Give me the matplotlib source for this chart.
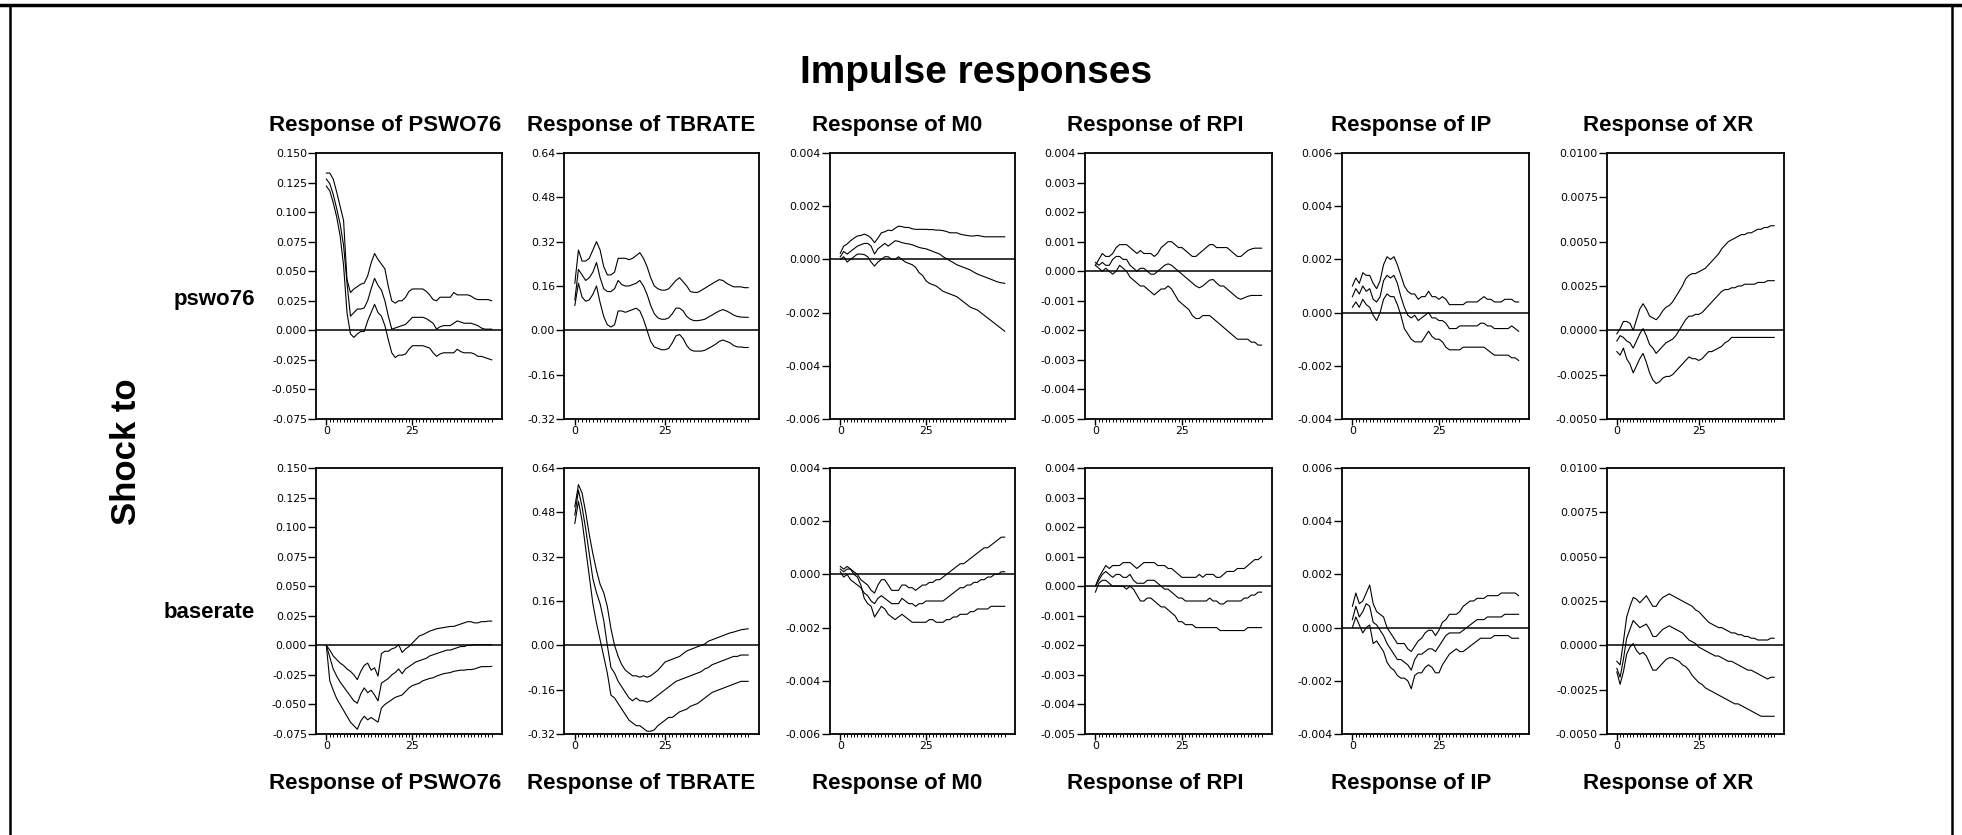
import matplotlib
matplotlib.use("Agg")
import matplotlib.pyplot as plt
from matplotlib.lines import Line2D
from matplotlib.ticker import FixedLocator
import numpy as np

plt.rcParams['font.family'] = ['Liberation Sans', 'DejaVu Sans']
plt.rcParams['axes.unicode_minus'] = False

# horizon 0..48
periods = list(range(49))

responses = ["PSWO76", "TBRATE", "M0", "RPI", "IP", "XR"]
shocks = ["pswo76", "baserate"]

# y axis ticks for each response column
yticks_psw = [-0.075, -0.050, -0.025, 0.0, 0.025, 0.050, 0.075, 0.100, 0.125, 0.150]
ylabels_psw = ["-0.075", "-0.050", "-0.025", "0.000", "0.025", "0.050", "0.075", "0.100", "0.125", "0.150"]
yticks_tb = [-0.32, -0.16, 0.0, 0.16, 0.32, 0.48, 0.64]
ylabels_tb = ["-0.32", "-0.16", "0.00", "0.16", "0.32", "0.48", "0.64"]
yticks_m0 = [-0.006, -0.004, -0.002, 0.0, 0.002, 0.004]
ylabels_m0 = ["-0.006", "-0.004", "-0.002", "0.000", "0.002", "0.004"]
yticks_rpi = [-0.005, -0.004, -0.003, -0.002, -0.001, 0.0, 0.001, 0.002, 0.003, 0.004]
ylabels_rpi = ["-0.005", "-0.004", "-0.003", "-0.002", "-0.001", "0.000", "0.001", "0.002", "0.003", "0.004"]
yticks_ip = [-0.004, -0.002, 0.0, 0.002, 0.004, 0.006]
ylabels_ip = ["-0.004", "-0.002", "0.000", "0.002", "0.004", "0.006"]
yticks_xr = [-0.005, -0.0025, 0.0, 0.0025, 0.005, 0.0075, 0.01]
ylabels_xr = ["-0.0050", "-0.0025", "0.0000", "0.0025", "0.0050", "0.0075", "0.0100"]

# ---- shock to pswo76 ----
psw_psw_hi = [0.133, 0.133, 0.128, 0.117, 0.105, 0.093, 0.043, 0.032, 0.035, 0.037, 0.039, 0.040, 0.046, 0.057, 0.065, 0.060, 0.056, 0.052, 0.037, 0.025, 0.023, 0.025, 0.025, 0.028, 0.033, 0.035, 0.035, 0.035, 0.035, 0.033, 0.030, 0.026, 0.025, 0.028, 0.028, 0.028, 0.028, 0.032, 0.030, 0.030, 0.030, 0.030, 0.029, 0.027, 0.026, 0.026, 0.026, 0.026, 0.025]
psw_psw_mid = [0.128, 0.124, 0.115, 0.103, 0.090, 0.072, 0.040, 0.012, 0.015, 0.018, 0.018, 0.019, 0.025, 0.035, 0.044, 0.038, 0.034, 0.025, 0.012, 0.001, 0.002, 0.003, 0.004, 0.005, 0.008, 0.011, 0.011, 0.011, 0.011, 0.010, 0.008, 0.006, 0.001, 0.003, 0.004, 0.004, 0.004, 0.006, 0.008, 0.007, 0.006, 0.006, 0.006, 0.005, 0.004, 0.002, 0.001, 0.001, 0.001]
psw_psw_lo = [0.122, 0.118, 0.108, 0.096, 0.080, 0.055, 0.015, -0.003, -0.006, -0.003, -0.001, -0.001, 0.008, 0.015, 0.022, 0.015, 0.012, 0.004, -0.008, -0.019, -0.023, -0.021, -0.021, -0.020, -0.016, -0.013, -0.013, -0.013, -0.013, -0.014, -0.015, -0.019, -0.022, -0.020, -0.019, -0.019, -0.019, -0.019, -0.016, -0.018, -0.019, -0.019, -0.019, -0.020, -0.022, -0.022, -0.023, -0.024, -0.025]

psw_tb_hi = [0.17, 0.29, 0.25, 0.25, 0.26, 0.29, 0.32, 0.29, 0.23, 0.20, 0.20, 0.21, 0.26, 0.26, 0.26, 0.255, 0.26, 0.27, 0.28, 0.26, 0.23, 0.19, 0.16, 0.15, 0.145, 0.145, 0.15, 0.165, 0.18, 0.19, 0.175, 0.16, 0.14, 0.137, 0.137, 0.144, 0.152, 0.16, 0.168, 0.176, 0.183, 0.18, 0.17, 0.163, 0.157, 0.157, 0.157, 0.154, 0.154]
psw_tb_mid = [0.11, 0.22, 0.20, 0.18, 0.19, 0.21, 0.245, 0.19, 0.15, 0.14, 0.14, 0.15, 0.18, 0.165, 0.16, 0.16, 0.165, 0.17, 0.18, 0.16, 0.13, 0.09, 0.06, 0.045, 0.04, 0.04, 0.045, 0.06, 0.08, 0.08, 0.07, 0.05, 0.04, 0.035, 0.035, 0.037, 0.04, 0.048, 0.055, 0.063, 0.07, 0.075, 0.07, 0.063, 0.055, 0.05, 0.048, 0.047, 0.047]
psw_tb_lo = [0.09, 0.17, 0.12, 0.105, 0.11, 0.13, 0.16, 0.10, 0.05, 0.02, 0.012, 0.02, 0.07, 0.07, 0.065, 0.07, 0.075, 0.08, 0.07, 0.04, 0.0, -0.04, -0.06, -0.065, -0.07, -0.07, -0.065, -0.045, -0.02, -0.015, -0.03, -0.055, -0.07, -0.075, -0.075, -0.075, -0.072, -0.065, -0.058, -0.05, -0.04, -0.035, -0.04, -0.045, -0.055, -0.06, -0.06, -0.062, -0.062]

psw_m0_hi = [0.00023, 0.0005, 0.00058, 0.0007, 0.0008, 0.00088, 0.0009, 0.00095, 0.0009, 0.0008, 0.00063, 0.0008, 0.001, 0.00104, 0.0011, 0.00108, 0.00117, 0.00125, 0.00123, 0.0012, 0.0012, 0.00115, 0.00113, 0.00113, 0.00113, 0.00113, 0.00112, 0.00112, 0.0011, 0.0011, 0.00108, 0.00105, 0.001, 0.001, 0.001, 0.00095, 0.00092, 0.0009, 0.00088, 0.00088, 0.0009, 0.00088, 0.00085, 0.00085, 0.00085, 0.00085, 0.00085, 0.00085, 0.00085]
psw_m0_mid = [0.0001, 0.0003, 0.0002, 0.0003, 0.0004, 0.0005, 0.00055, 0.0006, 0.0006, 0.0005, 0.0002, 0.0004, 0.0005, 0.0006, 0.0005, 0.0006, 0.0007, 0.00068, 0.00063, 0.0006, 0.00058, 0.00055, 0.0005, 0.00045, 0.00042, 0.0004, 0.00035, 0.0003, 0.00025, 0.0002, 0.0001, 0.00003, -0.00005, -0.00012, -0.0002, -0.00025, -0.0003, -0.00035, -0.0004, -0.00048, -0.00055, -0.0006, -0.00065, -0.0007, -0.00075, -0.0008, -0.00085, -0.00088, -0.0009]
psw_m0_lo = [0.0, 0.0001, -0.0001, 0.0, 0.0001, 0.0002, 0.0002, 0.00018, 0.0001, -0.0001, -0.00025, -0.0001, 0.0, 0.0001, 0.0001, 0.0, 0.0, 0.0001, 0.0, -0.0001, -0.00015, -0.0002, -0.0003, -0.0005, -0.0006, -0.0008, -0.0009, -0.00095, -0.001, -0.0011, -0.0012, -0.00125, -0.0013, -0.00135, -0.0014, -0.0015, -0.0016, -0.0017, -0.0018, -0.00185, -0.0019, -0.002, -0.0021, -0.0022, -0.0023, -0.0024, -0.0025, -0.0026, -0.0027]

psw_rpi_hi = [0.0002, 0.0004, 0.0006, 0.0005, 0.0005, 0.0006, 0.0008, 0.0009, 0.0009, 0.0009, 0.0008, 0.0007, 0.0006, 0.0007, 0.0006, 0.0006, 0.0006, 0.0005, 0.0006, 0.0008, 0.0009, 0.001, 0.001, 0.0009, 0.0008, 0.0008, 0.0007, 0.0006, 0.0005, 0.0005, 0.0006, 0.0007, 0.0008, 0.0009, 0.0009, 0.0008, 0.0008, 0.0008, 0.0008, 0.0007, 0.0006, 0.0005, 0.0005, 0.0006, 0.0007, 0.00075, 0.00078, 0.00078, 0.00078]
psw_rpi_mid = [0.0003, 0.0002, 0.0003, 0.0002, 0.0002, 0.0004, 0.0005, 0.0005, 0.0004, 0.0004, 0.0002, 0.0001, 0.0, 0.0001, 0.0001, 0.0, -0.0001, -0.0001, 0.0, 0.0001, 0.0002, 0.00025, 0.0002, 0.0001, 0.0, -0.0001, -0.0002, -0.0003, -0.0004, -0.0005, -0.00056, -0.0005, -0.0004, -0.0003, -0.00028, -0.0004, -0.0005, -0.0005, -0.0006, -0.0007, -0.0008, -0.0009, -0.00095, -0.0009, -0.00085, -0.00082, -0.00082, -0.00082, -0.00082]
psw_rpi_lo = [0.0002, 0.0001, 0.0, 0.0001, 0.0, -0.0001, 0.0, 0.0002, 0.0001, 0.0, -0.0002, -0.0003, -0.0004, -0.0005, -0.0005, -0.0006, -0.0007, -0.0008, -0.0007, -0.0006, -0.0006, -0.0005, -0.0006, -0.0008, -0.001, -0.0011, -0.0012, -0.0013, -0.0015, -0.0016, -0.0016, -0.0015, -0.0015, -0.0015, -0.0016, -0.0017, -0.0018, -0.0019, -0.002, -0.0021, -0.0022, -0.0023, -0.0023, -0.0023, -0.0023, -0.0024, -0.0024, -0.0025, -0.0025]

psw_ip_hi = [0.0010, 0.0013, 0.0011, 0.0015, 0.0014, 0.0014, 0.0011, 0.0009, 0.0012, 0.0018, 0.0021, 0.002, 0.0021, 0.0018, 0.0014, 0.001, 0.0008, 0.0007, 0.0007, 0.0005, 0.0006, 0.0006, 0.0008, 0.0006, 0.0006, 0.0005, 0.0006, 0.0005, 0.0003, 0.0003, 0.0003, 0.0003, 0.0003, 0.0004, 0.0004, 0.0004, 0.0004, 0.0005, 0.0006, 0.0005, 0.0005, 0.0004, 0.0004, 0.0004, 0.0005, 0.0005, 0.0005, 0.0004, 0.0004]
psw_ip_mid = [0.0006, 0.0009, 0.0007, 0.001, 0.0008, 0.0009, 0.0005, 0.0004, 0.0006, 0.0012, 0.0014, 0.0013, 0.0014, 0.0011, 0.0006, 0.0002, -0.0001, -0.0002, -0.0001, -0.0003, -0.0002, -0.0001, 0.0, -0.0002, -0.0002, -0.0003, -0.0003, -0.0004, -0.0006, -0.0006, -0.0006, -0.0005, -0.0005, -0.0005, -0.0005, -0.0005, -0.0005, -0.0004, -0.0004, -0.0005, -0.0005, -0.0006, -0.0006, -0.0006, -0.0006, -0.0006, -0.0005, -0.0006, -0.0007]
psw_ip_lo = [0.0002, 0.0004, 0.0002, 0.0005, 0.0003, 0.0002, -0.0001, -0.0003, 0.0, 0.0005, 0.0007, 0.0006, 0.0006, 0.0003, -0.0001, -0.0006, -0.0008, -0.001, -0.0011, -0.0011, -0.0011, -0.0009, -0.0007, -0.0009, -0.001, -0.001, -0.0011, -0.0013, -0.0014, -0.0014, -0.0014, -0.0014, -0.0013, -0.0013, -0.0013, -0.0013, -0.0013, -0.0013, -0.0013, -0.0014, -0.0015, -0.0016, -0.0016, -0.0016, -0.0016, -0.0016, -0.0017, -0.0017, -0.0018]

psw_xr_hi = [-0.0002, 0.0001, 0.0005, 0.0005, 0.0004, 0.0, 0.0006, 0.0012, 0.0015, 0.0012, 0.0008, 0.0007, 0.0006, 0.0008, 0.0011, 0.0013, 0.0014, 0.0016, 0.0019, 0.0022, 0.0025, 0.0029, 0.0031, 0.0032, 0.0032, 0.0033, 0.0034, 0.0035, 0.0037, 0.0039, 0.0041, 0.0043, 0.0046, 0.0048, 0.005, 0.0051, 0.0052, 0.0053, 0.0054, 0.0054, 0.0055, 0.0055, 0.0056, 0.0057, 0.0057, 0.0058, 0.0058, 0.0059, 0.0059]
psw_xr_mid = [-0.0006, -0.0003, -0.0004, -0.0006, -0.0007, -0.001, -0.0006, -0.0002, 0.0001, -0.0003, -0.0008, -0.001, -0.0013, -0.0011, -0.0009, -0.0007, -0.0006, -0.0005, -0.0003, 0.0, 0.0003, 0.0006, 0.0008, 0.0008, 0.0009, 0.0009, 0.001, 0.0012, 0.0014, 0.0016, 0.0018, 0.002, 0.0022, 0.0023, 0.0023, 0.0024, 0.0024, 0.0025, 0.0025, 0.0026, 0.0026, 0.0026, 0.0026, 0.0027, 0.0027, 0.0027, 0.0028, 0.0028, 0.0028]
psw_xr_lo = [-0.0012, -0.0014, -0.001, -0.0016, -0.0019, -0.0024, -0.002, -0.0016, -0.0013, -0.0018, -0.0024, -0.0028, -0.003, -0.0029, -0.0027, -0.0026, -0.0026, -0.0025, -0.0023, -0.0021, -0.0019, -0.0017, -0.0015, -0.0016, -0.0016, -0.0017, -0.0016, -0.0014, -0.0012, -0.0012, -0.0011, -0.001, -0.0009, -0.0007, -0.0006, -0.0004, -0.0004, -0.0004, -0.0004, -0.0004, -0.0004, -0.0004, -0.0004, -0.0004, -0.0004, -0.0004, -0.0004, -0.0004, -0.0004]

# ---- shock to baserate ----
bas_psw_hi = [0.0, -0.004, -0.009, -0.012, -0.015, -0.017, -0.02, -0.022, -0.025, -0.029, -0.022, -0.017, -0.015, -0.021, -0.019, -0.026, -0.007, -0.005, -0.005, -0.003, -0.002, 0.0006, -0.006, -0.003, -0.001, 0.002, 0.005, 0.008, 0.009, 0.0105, 0.012, 0.013, 0.014, 0.0145, 0.015, 0.0155, 0.016, 0.016, 0.017, 0.018, 0.019, 0.02, 0.02, 0.019, 0.019, 0.02, 0.02, 0.0205, 0.0205]
bas_psw_mid = [0.0, -0.01, -0.02, -0.026, -0.031, -0.035, -0.039, -0.043, -0.047, -0.049, -0.041, -0.036, -0.04, -0.038, -0.042, -0.047, -0.032, -0.03, -0.028, -0.025, -0.023, -0.02, -0.024, -0.02, -0.018, -0.016, -0.014, -0.013, -0.012, -0.011, -0.009, -0.008, -0.007, -0.006, -0.005, -0.004, -0.004, -0.003, -0.002, -0.001, -0.001, 0.0, 0.0, 0.0005, 0.0005, 0.0005, 0.0005, 0.0005, 0.0005]
bas_psw_lo = [0.0, -0.03, -0.038, -0.045, -0.05, -0.055, -0.06, -0.065, -0.068, -0.071, -0.064, -0.06, -0.063, -0.061, -0.063, -0.065, -0.053, -0.05, -0.048, -0.046, -0.044, -0.043, -0.042, -0.039, -0.036, -0.034, -0.033, -0.032, -0.03, -0.029, -0.028, -0.0275, -0.026, -0.025, -0.024, -0.0235, -0.023, -0.022, -0.0215, -0.021, -0.021, -0.0205, -0.0205, -0.02, -0.019, -0.018, -0.018, -0.018, -0.0178]

bas_tb_hi = [0.50, 0.58, 0.55, 0.48, 0.40, 0.33, 0.27, 0.22, 0.19, 0.14, 0.06, 0.0, -0.04, -0.07, -0.09, -0.10, -0.11, -0.11, -0.115, -0.11, -0.115, -0.11, -0.10, -0.09, -0.075, -0.06, -0.055, -0.05, -0.045, -0.04, -0.03, -0.02, -0.015, -0.01, -0.005, 0.0, 0.005, 0.015, 0.02, 0.025, 0.03, 0.035, 0.04, 0.045, 0.048, 0.052, 0.056, 0.058, 0.06]
bas_tb_mid = [0.47, 0.56, 0.50, 0.42, 0.33, 0.24, 0.19, 0.15, 0.09, 0.0, -0.08, -0.10, -0.13, -0.15, -0.17, -0.19, -0.20, -0.19, -0.20, -0.20, -0.205, -0.20, -0.19, -0.18, -0.17, -0.16, -0.15, -0.14, -0.13, -0.125, -0.12, -0.115, -0.11, -0.105, -0.10, -0.095, -0.085, -0.08, -0.07, -0.065, -0.06, -0.055, -0.05, -0.045, -0.04, -0.04, -0.035, -0.035, -0.035]
bas_tb_lo = [0.44, 0.52, 0.45, 0.35, 0.25, 0.15, 0.08, 0.02, -0.04, -0.10, -0.18, -0.19, -0.21, -0.23, -0.25, -0.27, -0.28, -0.29, -0.29, -0.30, -0.31, -0.31, -0.305, -0.29, -0.28, -0.27, -0.26, -0.26, -0.25, -0.24, -0.235, -0.23, -0.22, -0.215, -0.21, -0.20, -0.19, -0.18, -0.17, -0.165, -0.16, -0.155, -0.15, -0.145, -0.14, -0.135, -0.13, -0.13, -0.13]

bas_m0_hi = [0.0003, 0.0002, 0.0003, 0.0002, 0.0001, 0.0, -0.0002, -0.0003, -0.0004, -0.0006, -0.0007, -0.0004, -0.0002, -0.0002, -0.0004, -0.0006, -0.0006, -0.0006, -0.0004, -0.0004, -0.0005, -0.0005, -0.0006, -0.0005, -0.0004, -0.0004, -0.0003, -0.0003, -0.0002, -0.0002, -0.0001, 0.0, 0.0001, 0.0002, 0.0003, 0.0004, 0.0004, 0.0005, 0.0006, 0.0007, 0.0008, 0.0009, 0.001, 0.001, 0.0011, 0.0012, 0.0013, 0.0014, 0.0014]
bas_m0_mid = [0.0001, -0.0001, 0.0, -0.0002, -0.0003, -0.0004, -0.0005, -0.0007, -0.0008, -0.001, -0.0011, -0.0009, -0.0008, -0.0009, -0.001, -0.0011, -0.0011, -0.0011, -0.0009, -0.001, -0.0011, -0.0011, -0.0012, -0.0011, -0.0011, -0.001, -0.001, -0.001, -0.001, -0.001, -0.001, -0.0009, -0.0008, -0.0007, -0.0006, -0.0005, -0.0005, -0.0004, -0.0004, -0.0003, -0.0003, -0.0002, -0.0002, -0.0001, -0.0001, 0.0, 0.0, 0.0001, 0.0001]
bas_m0_lo = [0.0002, 0.0001, 0.0002, 0.0002, 0.0, -0.0001, -0.0004, -0.0009, -0.0011, -0.0012, -0.0016, -0.0014, -0.0012, -0.0013, -0.0015, -0.0016, -0.0017, -0.0016, -0.0015, -0.0016, -0.0017, -0.0018, -0.0018, -0.0018, -0.0018, -0.0018, -0.0017, -0.0017, -0.0018, -0.0018, -0.0018, -0.0017, -0.0017, -0.0016, -0.0016, -0.0015, -0.0015, -0.0015, -0.0014, -0.0014, -0.0013, -0.0013, -0.0013, -0.0013, -0.0012, -0.0012, -0.0012, -0.0012, -0.0012]

bas_rpi_hi = [0.0, 0.0003, 0.0005, 0.0007, 0.0006, 0.0007, 0.0007, 0.0007, 0.0008, 0.0008, 0.0008, 0.0007, 0.0006, 0.0007, 0.0008, 0.0008, 0.0008, 0.0008, 0.0007, 0.0007, 0.0007, 0.0006, 0.0006, 0.0005, 0.0004, 0.0003, 0.0003, 0.0003, 0.0003, 0.0003, 0.0004, 0.0003, 0.0004, 0.0004, 0.0004, 0.0003, 0.0003, 0.0004, 0.0005, 0.0005, 0.0005, 0.0006, 0.0006, 0.0006, 0.0007, 0.0008, 0.0009, 0.0009, 0.001]
bas_rpi_mid = [0.0, 0.0002, 0.0004, 0.0005, 0.0004, 0.0003, 0.0004, 0.0004, 0.0003, 0.0003, 0.0004, 0.0002, 0.0001, 0.0001, 0.0001, 0.0002, 0.0002, 0.0002, 0.0001, 0.0, -0.0001, -0.0001, -0.0002, -0.0003, -0.0004, -0.0004, -0.0005, -0.0005, -0.0005, -0.0005, -0.0005, -0.0005, -0.0005, -0.0004, -0.0005, -0.0005, -0.0006, -0.0006, -0.0005, -0.0005, -0.0005, -0.0005, -0.0005, -0.0004, -0.0004, -0.0003, -0.0003, -0.0002, -0.0002]
bas_rpi_lo = [-0.0002, 0.0001, 0.0002, 0.0002, 0.0001, 0.0, 0.0, 0.0, 0.0, -0.0001, 0.0, -0.0001, -0.0003, -0.0005, -0.0005, -0.0004, -0.0004, -0.0005, -0.0006, -0.0007, -0.0007, -0.0008, -0.0009, -0.001, -0.0012, -0.0012, -0.0013, -0.0013, -0.0013, -0.0014, -0.0014, -0.0014, -0.0014, -0.0014, -0.0014, -0.0014, -0.0015, -0.0015, -0.0015, -0.0015, -0.0015, -0.0015, -0.0015, -0.0015, -0.0014, -0.0014, -0.0014, -0.0014, -0.0014]

bas_ip_hi = [0.0008, 0.0013, 0.0009, 0.001, 0.0013, 0.0016, 0.0009, 0.0006, 0.0005, 0.0004, 0.0, -0.0002, -0.0004, -0.0006, -0.0006, -0.0006, -0.0008, -0.0009, -0.0007, -0.0005, -0.0004, -0.0002, -0.0001, -0.0001, -0.0003, -0.0001, 0.0002, 0.0003, 0.0005, 0.0005, 0.0005, 0.0006, 0.0008, 0.0009, 0.001, 0.001, 0.0011, 0.0011, 0.0011, 0.0012, 0.0012, 0.0012, 0.0012, 0.0013, 0.0013, 0.0013, 0.0013, 0.0013, 0.0012]
bas_ip_mid = [0.0003, 0.0008, 0.0004, 0.0006, 0.0009, 0.0008, 0.0002, 0.0001, -0.0001, -0.0003, -0.0006, -0.0008, -0.001, -0.0012, -0.0012, -0.0013, -0.0014, -0.0016, -0.0012, -0.001, -0.001, -0.0009, -0.0008, -0.0008, -0.0009, -0.0007, -0.0005, -0.0003, -0.0002, -0.0002, -0.0002, -0.0002, -0.0001, 0.0, 0.0001, 0.0002, 0.0003, 0.0003, 0.0003, 0.0004, 0.0004, 0.0004, 0.0004, 0.0004, 0.0005, 0.0005, 0.0005, 0.0005, 0.0005]
bas_ip_lo = [0.0, 0.0004, 0.0001, -0.0002, 0.0, 0.0001, -0.0006, -0.0005, -0.0007, -0.0009, -0.0013, -0.0015, -0.0016, -0.0018, -0.0019, -0.0019, -0.002, -0.0023, -0.0018, -0.0017, -0.0017, -0.0015, -0.0014, -0.0015, -0.0017, -0.0017, -0.0014, -0.0012, -0.001, -0.0009, -0.0008, -0.0009, -0.0009, -0.0008, -0.0007, -0.0006, -0.0005, -0.0004, -0.0004, -0.0004, -0.0004, -0.0003, -0.0003, -0.0003, -0.0003, -0.0003, -0.0004, -0.0004, -0.0004]

bas_xr_hi = [-0.0009, -0.0011, 0.0002, 0.0016, 0.0022, 0.0027, 0.0026, 0.0024, 0.0026, 0.0028, 0.0025, 0.0022, 0.0022, 0.0025, 0.0027, 0.0028, 0.0029, 0.0028, 0.0027, 0.0026, 0.0025, 0.0024, 0.0023, 0.0022, 0.002, 0.0019, 0.0017, 0.0015, 0.0013, 0.0012, 0.0011, 0.001, 0.001, 0.0009, 0.0008, 0.0007, 0.0007, 0.0006, 0.0006, 0.0005, 0.0005, 0.0004, 0.0004, 0.0003, 0.0003, 0.0003, 0.0003, 0.0004, 0.0004]
bas_xr_mid = [-0.0013, -0.0018, -0.0008, 0.0004, 0.0009, 0.0014, 0.0012, 0.001, 0.0011, 0.0012, 0.0009, 0.0005, 0.0005, 0.0007, 0.0009, 0.001, 0.0011, 0.001, 0.0009, 0.0008, 0.0007, 0.0005, 0.0003, 0.0002, 0.0001, -0.0001, -0.0002, -0.0003, -0.0004, -0.0005, -0.0006, -0.0006, -0.0007, -0.0008, -0.0009, -0.0009, -0.001, -0.0011, -0.0012, -0.0013, -0.0014, -0.0014, -0.0015, -0.0016, -0.0017, -0.0018, -0.0019, -0.0018, -0.0018]
bas_xr_lo = [-0.0015, -0.0022, -0.0015, -0.0005, -0.0001, 0.0001, -0.0003, -0.0005, -0.0004, -0.0006, -0.001, -0.0014, -0.0014, -0.0012, -0.001, -0.0008, -0.0007, -0.0007, -0.0008, -0.0009, -0.0011, -0.0012, -0.0014, -0.0017, -0.0019, -0.0021, -0.0022, -0.0024, -0.0025, -0.0026, -0.0027, -0.0028, -0.0029, -0.003, -0.0031, -0.0032, -0.0033, -0.0033, -0.0034, -0.0035, -0.0036, -0.0037, -0.0038, -0.0039, -0.004, -0.004, -0.004, -0.004, -0.004]

yaxes = [(yticks_psw, ylabels_psw), (yticks_tb, ylabels_tb), (yticks_m0, ylabels_m0),
         (yticks_rpi, ylabels_rpi), (yticks_ip, ylabels_ip), (yticks_xr, ylabels_xr)]
series = [
    [(psw_psw_hi, psw_psw_mid, psw_psw_lo), (psw_tb_hi, psw_tb_mid, psw_tb_lo),
     (psw_m0_hi, psw_m0_mid, psw_m0_lo), (psw_rpi_hi, psw_rpi_mid, psw_rpi_lo),
     (psw_ip_hi, psw_ip_mid, psw_ip_lo), (psw_xr_hi, psw_xr_mid, psw_xr_lo)],
    [(bas_psw_hi, bas_psw_mid, bas_psw_lo), (bas_tb_hi, bas_tb_mid, bas_tb_lo),
     (bas_m0_hi, bas_m0_mid, bas_m0_lo), (bas_rpi_hi, bas_rpi_mid, bas_rpi_lo),
     (bas_ip_hi, bas_ip_mid, bas_ip_lo), (bas_xr_hi, bas_xr_mid, bas_xr_lo)],
]

W, H = 1962, 835
fig = plt.figure(figsize=(W / 100, H / 100), dpi=100)

# panel boxes in pixels (left, right) and (top, bottom)
cols_px = [(316, 502), (564, 759), (830, 1015), (1085, 1272), (1342, 1529), (1607, 1784)]
rows_px = [(153, 419), (468, 734)]
title_x = [385, 641, 897.5, 1155, 1411, 1668]

for r, (top, bot) in enumerate(rows_px):
    for c, (left, right) in enumerate(cols_px):
        ax = fig.add_axes([left / W, 1 - bot / H, (right - left) / W, (bot - top) / H])
        ticks, labels = yaxes[c]
        for s in series[r][c]:
            ax.plot(periods, s, color='black', lw=0.8)
        ax.axhline(0, color='black', lw=1.1)
        ax.set_xlim(-3, 51)
        ax.set_ylim(ticks[0], ticks[-1])
        ax.yaxis.set_major_locator(FixedLocator(ticks))
        ax.set_yticklabels(labels)
        ax.xaxis.set_major_locator(FixedLocator([0, 25]))
        ax.set_xticklabels(["0", "25"])
        ax.xaxis.set_minor_locator(FixedLocator(periods))
        ax.tick_params(axis='y', length=5.5, width=1.0, pad=1, labelsize=7.8, direction='out')
        ax.tick_params(axis='x', which='major', length=4, width=1.0, pad=1, labelsize=7.8)
        ax.tick_params(axis='x', which='minor', length=2, width=0.7)
        for sp in ax.spines.values():
            sp.set_linewidth(1.3)
        for lab in ax.get_yticklabels() + ax.get_xticklabels():
            lab.set_family('DejaVu Sans')

for c, name in enumerate(responses):
    fig.text(title_x[c] / W, 1 - 125 / H, "Response of " + name, ha='center', va='center',
             fontsize=16, fontweight='bold')
    fig.text(title_x[c] / W, 1 - 783 / H, "Response of " + name, ha='center', va='center',
             fontsize=16, fontweight='bold')

fig.text(255 / W, 1 - 299 / H, shocks[0], ha='right', va='center', fontsize=16, fontweight='bold')
fig.text(255 / W, 1 - 612 / H, shocks[1], ha='right', va='center', fontsize=16, fontweight='bold')
fig.text(127 / W, 1 - 452 / H, "Shock to", rotation=90, ha='center', va='center',
         fontsize=25, fontweight='bold')
fig.text(976 / W, 1 - 73 / H, "Impulse responses", ha='center', va='center',
         fontsize=28, fontweight='bold')

# page frame
fig.add_artist(Line2D([0, 1], [1 - 5 / H, 1 - 5 / H], transform=fig.transFigure, color='black', lw=2.5))
fig.add_artist(Line2D([10 / W, 10 / W], [0, 1 - 5 / H], transform=fig.transFigure, color='black', lw=1.8))
fig.add_artist(Line2D([1952 / W, 1952 / W], [0, 1 - 5 / H], transform=fig.transFigure, color='black', lw=1.8))

fig.savefig("out.png", dpi=100)
